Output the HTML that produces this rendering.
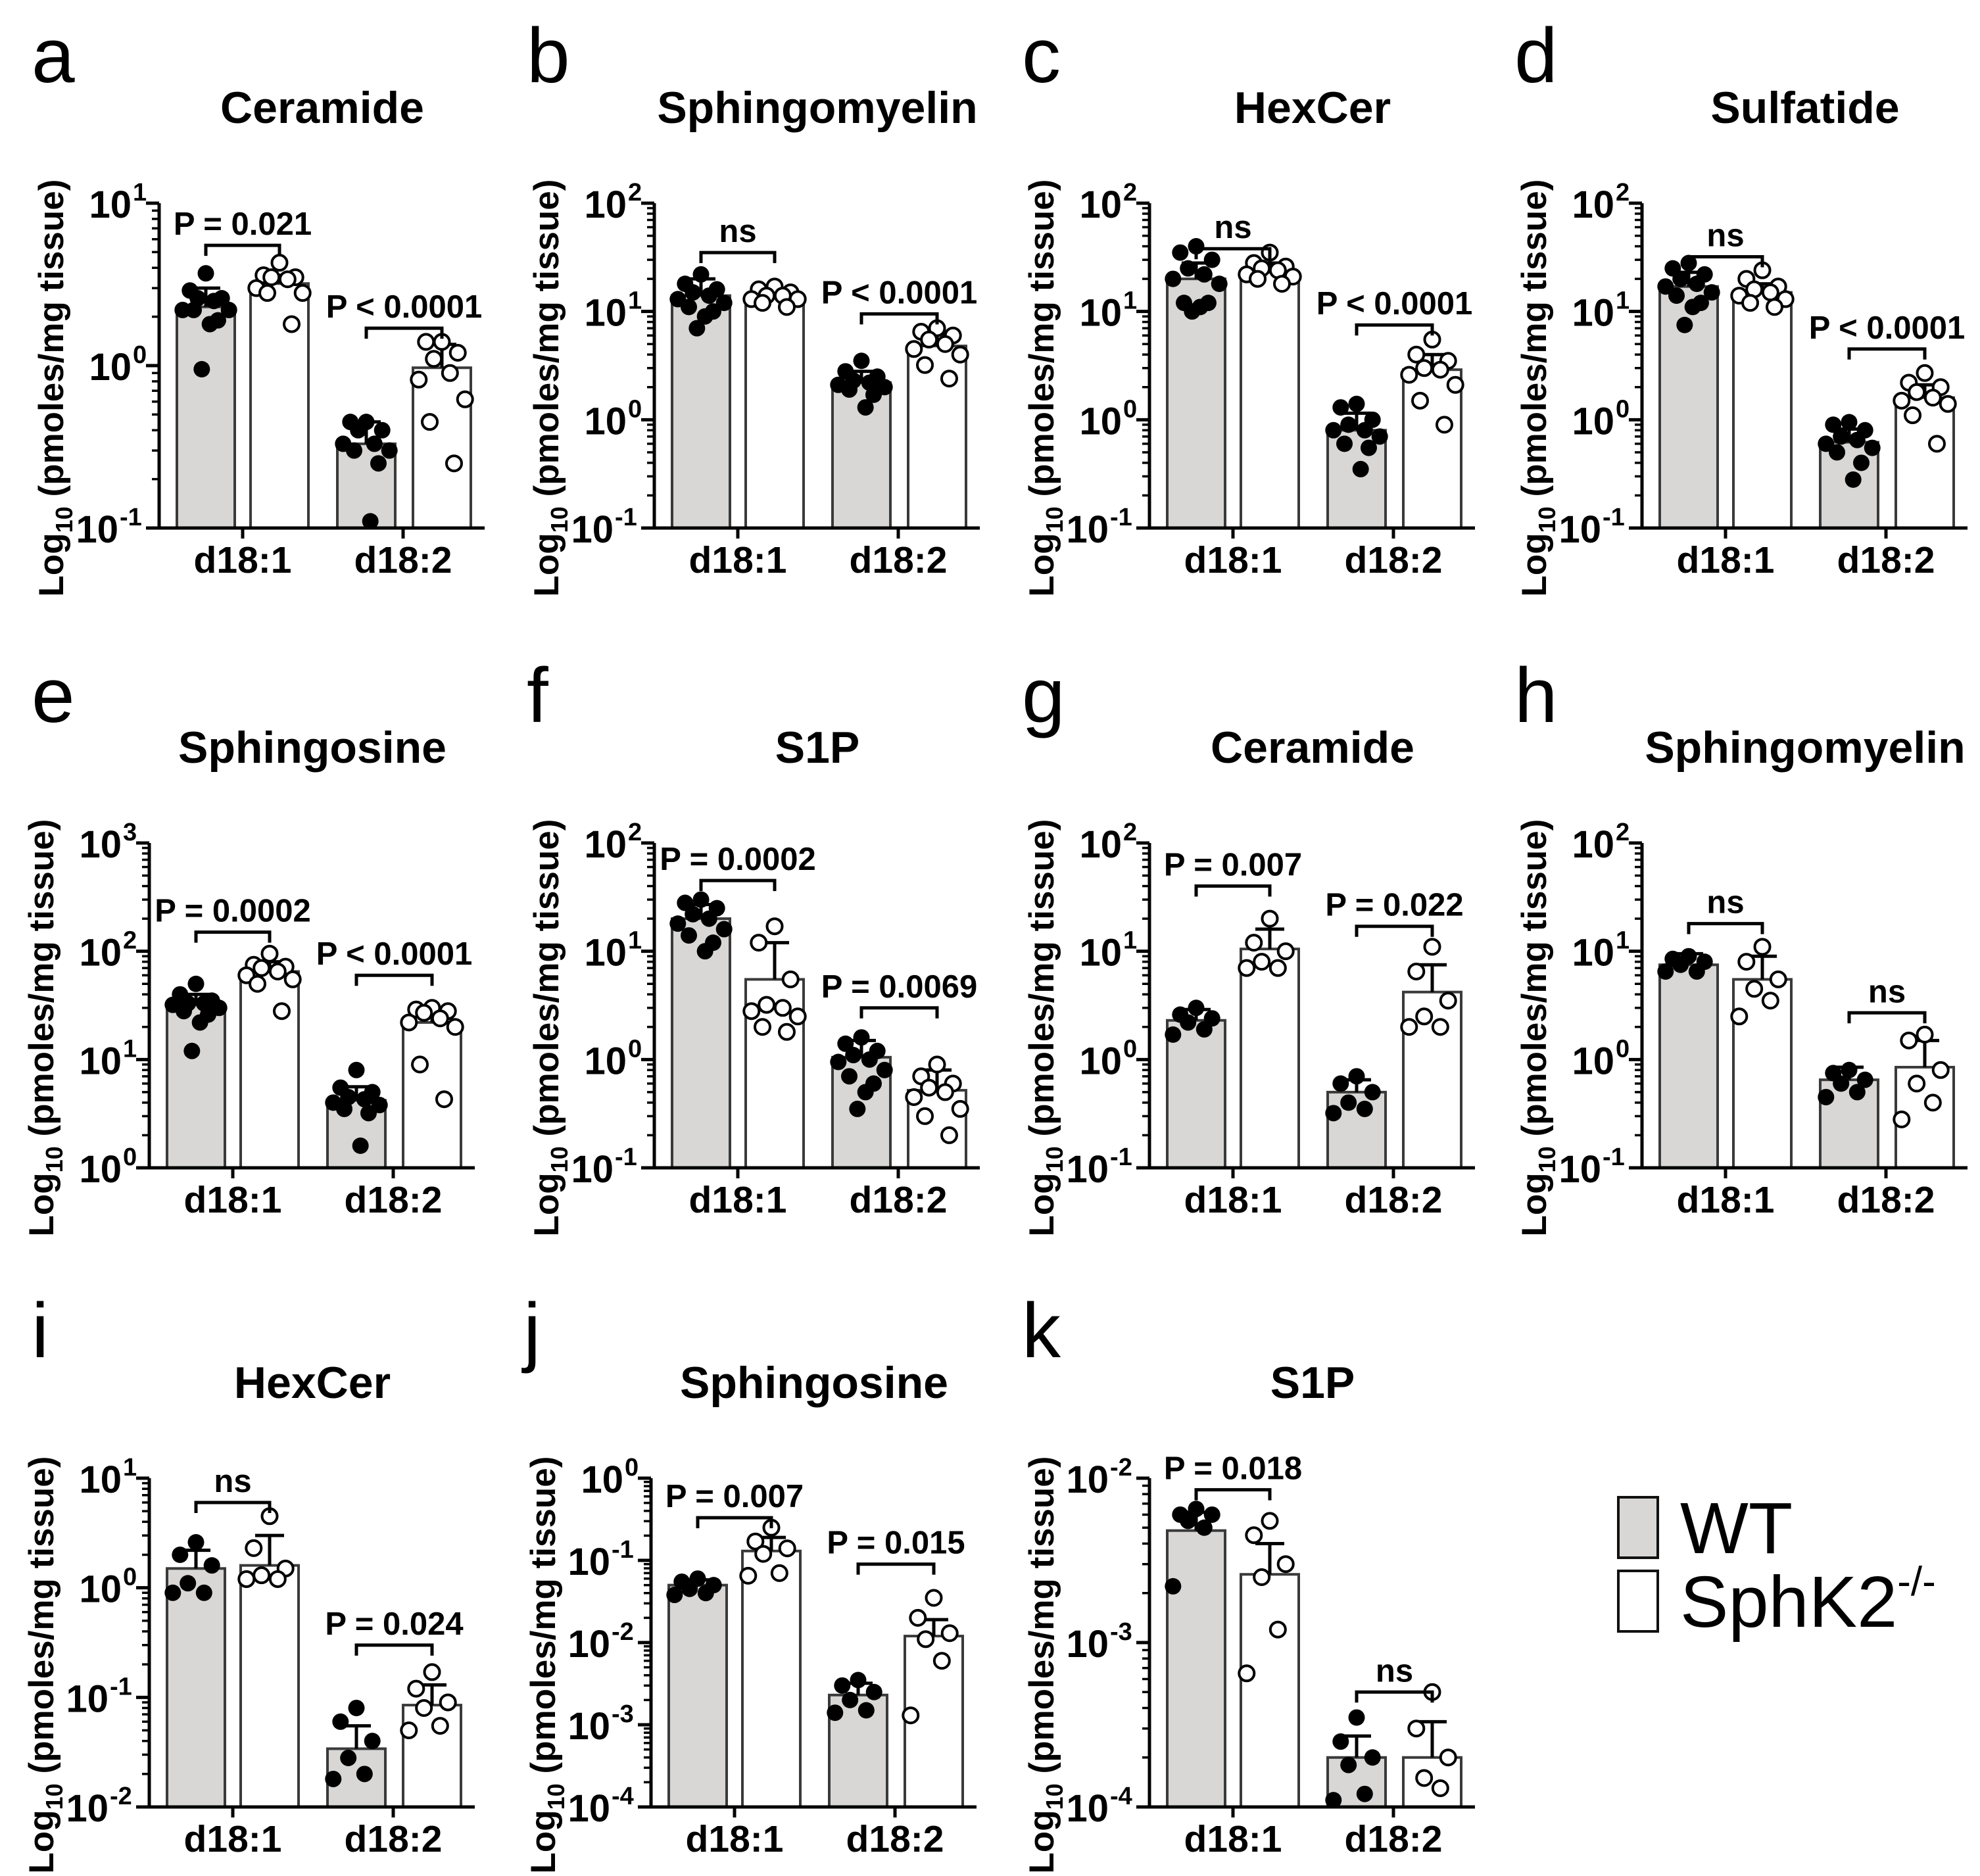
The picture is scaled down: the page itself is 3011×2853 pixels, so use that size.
<!DOCTYPE html>
<html><head><meta charset="utf-8"><style>
html,body{margin:0;padding:0;background:#fff}
svg{display:block}
text{font-family:"Liberation Sans",Arial,sans-serif}
</style></head><body>
<svg id="fig" width="3011" height="2853" viewBox="0 0 3011 2853" xmlns="http://www.w3.org/2000/svg">
<g>
<rect x="2461" y="2277" width="60" height="92" fill="#d8d7d5" stroke="#111" stroke-width="4"/>
<text x="2555" y="2362" font-size="110">WT</text>
<rect x="2461" y="2389" width="60" height="92" fill="#fff" stroke="#111" stroke-width="4"/>
<text x="2555" y="2474" font-size="110">SphK2<tspan font-size="62" dy="-48">-/-</tspan></text>
</g>
</svg>
<script>
const panelLetters=['a','b','c','d','e','f','g','h','i','j','k'];
const panelTitles=['Ceramide','Sphingomyelin','HexCer','Sulfatide','Sphingosine','S1P','Ceramide','Sphingomyelin','HexCer','Sphingosine','S1P'];
const categories=['d18:1','d18:2'];
const expMin=[-1,-1,-1,-1,0,-1,-1,-1,-2,-4,-4];
const expMax=[1,2,2,2,3,2,2,2,1,0,-2];
const wtMeans=[[2.3,0.33],[14,2.2],[20,0.8],[17,0.62],[32,4.2],[20,1.05],[2.3,0.5],[7.5,0.65],[1.5,0.034],[0.05,0.0023],[0.0048,0.0002]];
const koMeans=[[3.2,0.97],[13.5,4.8],[23,2.9],[15,1.6],[65,22],[5.5,0.52],[10.5,4.2],[5.5,0.85],[1.6,0.085],[0.13,0.012],[0.0026,0.0002]];
const wtSdTop=[[3.0,0.45],[20,2.8],[28,1.15],[23,0.82],[40,5.6],[27,1.5],[2.9,0.65],[9.5,0.85],[2.2,0.055],[0.058,0.0032],[0.0062,0.00027]];
const koSdTop=[[3.6,1.35],[16,6.2],[28,4],[18,2.1],[80,28],[12,0.8],[16,7.5],[9,1.5],[3,0.13],[0.19,0.019],[0.004,0.00033]];
const wtPoints=[
 [[3.7,2.9,2.6,2.6,2.5,2.2,2.2,2.2,1.9,1.8,0.95],[0.45,0.45,0.4,0.4,0.33,0.33,0.3,0.3,0.25,0.11]],
 [[22,18,16,15,14,13,12,11,10,9,7],[3.5,2.8,2.5,2.3,2.2,2.1,2.0,1.9,1.7,1.3]],
 [[40,35,30,25,22,20,18,12,12,11,10],[1.4,1.3,1.0,0.9,0.8,0.8,0.7,0.6,0.55,0.35]],
 [[28,25,22,20,18,17,15,14,12,11,7.5],[0.95,0.9,0.8,0.7,0.65,0.6,0.55,0.5,0.4,0.28]],
 [[50,40,35,33,33,32,30,28,26,22,12],[8,5.5,5,4.5,4.3,4,3.8,3.5,3.2,1.6]],
 [[30,28,25,22,20,18,16,14,12,10],[1.6,1.4,1.2,1.1,1,0.95,0.8,0.7,0.6,0.5,0.35]],
 [[3,2.6,2.4,2.2,1.9,1.7],[0.7,0.6,0.5,0.4,0.35,0.32]],
 [[9,8.5,8,7.5,6.5,6.5],[0.8,0.75,0.65,0.6,0.5,0.45]],
 [[2.6,2,1.6,1.1,0.9,0.9],[0.08,0.06,0.04,0.028,0.02,0.018]],
 [[0.06,0.055,0.05,0.045,0.04,0.038],[0.0035,0.003,0.0025,0.002,0.0015,0.0014]],
 [[0.0065,0.006,0.006,0.0055,0.005,0.0022],[0.00035,0.00025,0.0002,0.00018,0.00012,0.00011]]];
const koPoints=[
 [[4.3,3.6,3.5,3.5,3.4,3.0,2.8,2.8,1.8],[1.4,1.4,1.2,1.1,0.9,0.82,0.62,0.45,0.25]],
 [[17,16,15,14,14,13,13,12,11],[7,6.5,6,5.5,5,4.5,4,3.2,2.4]],
 [[35,28,26,25,24,22,21,20,18],[5.5,4,3.5,3,2.9,2.6,2.1,1.5,0.9]],
 [[24,20,17,16,15,14,13,12,11],[2.7,2.2,2,1.8,1.6,1.5,1.4,1.1,0.6]],
 [[95,75,72,70,65,60,55,50,28],[30,29,28,27,24,22,20,9,4.3]],
 [[17,12,5.5,3.2,3,2.8,2.5,2,1.8],[0.9,0.7,0.6,0.55,0.5,0.45,0.35,0.3,0.2]],
 [[20,12,10,8,7,7],[11,6.5,3.5,2.5,2,2]],
 [[11,8,5.5,4.5,3.5,2.5],[1.7,1.5,0.8,0.6,0.4,0.28]],
 [[4.5,2.3,1.5,1.3,1.2,1.2],[0.17,0.12,0.09,0.08,0.055,0.05]],
 [[0.25,0.17,0.14,0.12,0.07,0.065],[0.035,0.02,0.013,0.011,0.006,0.0013]],
 [[0.0055,0.0045,0.003,0.0025,0.0012,0.00065],[0.0005,0.0003,0.0002,0.00015,0.00013]]];
const pLabels=[['P = 0.021','P < 0.0001'],['ns','P < 0.0001'],['ns','P < 0.0001'],['ns','P < 0.0001'],['P = 0.0002','P < 0.0001'],['P = 0.0002','P = 0.0069'],['P = 0.007','P = 0.022'],['ns','ns'],['ns','P = 0.024'],['P = 0.007','P = 0.015'],['P = 0.018','ns']];
const bracketValues=[[5.5,1.7],[35,9.5],[38,7.5],[32,4.5],[150,60],[45,3],[40,17],[18,2.7],[6,0.3],[0.33,0.09],[0.0085,0.0005]];

const NS='http://www.w3.org/2000/svg';
const svg=document.getElementById('fig');
const axisX=[242,995,1748,2497,227,995,1748,2497,227,990,1748];
const rowTop=[309,309,309,309,1282,1282,1282,1282,2248,2248,2248];
const rowBot=[803,803,803,803,1776,1776,1776,1776,2748,2748,2748];
const jitter=[0,-0.55,0.55,-0.28,0.28,-0.8,0.8,-0.42,0.42,0.14,-0.14];
function mk(tag,attrs,parent){const e=document.createElementNS(NS,tag);for(const k in attrs)e.setAttribute(k,attrs[k]);(parent||svg).appendChild(e);return e;}

for(let p=0;p<11;p++){
  const g=mk('g',{});
  
  
  const ax=axisX[p],top=rowTop[p],bot=rowBot[p];
  const lo=expMin[p],hi=expMax[p];
  const y=v=>bot-(Math.log10(v)-lo)/(hi-lo)*(bot-top);
  const cx=ax+248;
  let t=mk('text',{x:ax-194-(p%4===0&&p>0?-15:0),y:rowTop[p]-184,'font-size':118},g);t.textContent=panelLetters[p];
  
  
  t=mk('text',{x:cx,y:rowTop[p]-122,'font-size':68,'font-weight':'bold','text-anchor':'middle'},g);t.textContent=panelTitles[p];
  
  
  t=mk('text',{x:0,y:0,'font-size':53,'font-weight':'bold','text-anchor':'middle',transform:`translate(${ax-146},${(top+bot)/2+34}) rotate(-90)`},g);
  t.innerHTML='Log<tspan font-size="36" dy="14">10</tspan><tspan dy="-14"> (pmoles/mg tissue)</tspan>';
  
  
  const barOff=[[27,139],[271,386]];
  for(let c=0;c<2;c++){
    const series=[[wtMeans,wtSdTop,wtPoints,'#d8d7d5',true],[koMeans,koSdTop,koPoints,'#fff',false]];
    for(let s=0;s<2;s++){
      const [m,sd,pts,fill,filled]=series[s];
      const bx=ax+barOff[c][s],bw=88,by=y(m[p][c]);
      const r=mk('rect',{x:bx,y:by,width:bw,height:bot-by,fill:fill,stroke:'#3a3a3a','stroke-width':4},g);
      
      
      const mx=bx+bw/2,ey=y(sd[p][c]);
      const e=mk('path',{d:`M${mx},${by}V${ey}M${mx-22},${ey}H${mx+22}`,stroke:'#000','stroke-width':5,fill:'none'},g);
      
      
      pts[p][c].forEach((v,i)=>{
        const pc=mk('circle',{cx:mx+jitter[i%jitter.length]*bw*0.5,cy:y(v),r:filled?12.5:11.5,fill:filled?'#000':'#fff',stroke:'#000','stroke-width':filled?0:4},g);
        
        
      });
    }
    const x1=ax+barOff[c][0]+44,x2=ax+barOff[c][1]+44,byy=y(bracketValues[p][c]);
    const br=mk('path',{d:`M${x1},${byy+16}V${byy}H${x2}V${byy+16}`,stroke:'#000','stroke-width':5,fill:'none'},g);
    
    
    t=mk('text',{x:(x1+x2)/2,y:byy-16,'font-size':49,'font-weight':'bold','text-anchor':'middle'},g);t.textContent=pLabels[p][c];
    
    
    const tx=ax+[127,371][c];
    mk('line',{x1:tx,y1:bot,x2:tx,y2:bot+16,stroke:'#000','stroke-width':5},g);
    t=mk('text',{x:tx,y:bot+68,'font-size':57,'font-weight':'bold','text-anchor':'middle'},g);t.textContent=categories[c];
    
    
  }
  const axl=mk('path',{d:`M${ax},${top}V${bot}H${ax+495}`,stroke:'#000','stroke-width':5,fill:'none'},g);
  
  
  for(let e=lo;e<=hi;e++){
    const yy=y(Math.pow(10,e));
    mk('line',{x1:ax-20,y1:yy,x2:ax,y2:yy,stroke:'#000','stroke-width':5},g);
    const lbl=String(e);
    const supW=lbl.length*20;
    t=mk('text',{x:ax-22-supW,y:yy+22,'font-size':58,'font-weight':'bold','text-anchor':'end'},g);
    t.textContent='10';
    
    
    const sup=mk('text',{x:ax-20-supW,y:yy-4,'font-size':38,'font-weight':'bold','text-anchor':'start'},g);
    sup.textContent=lbl;
    
    
    if(e<hi){for(let k=2;k<10;k++){const my=y(k*Math.pow(10,e));mk('line',{x1:ax-11,y1:my,x2:ax,y2:my,stroke:'#000','stroke-width':3.5},g);}}
  }
}
</script>
</body></html>
